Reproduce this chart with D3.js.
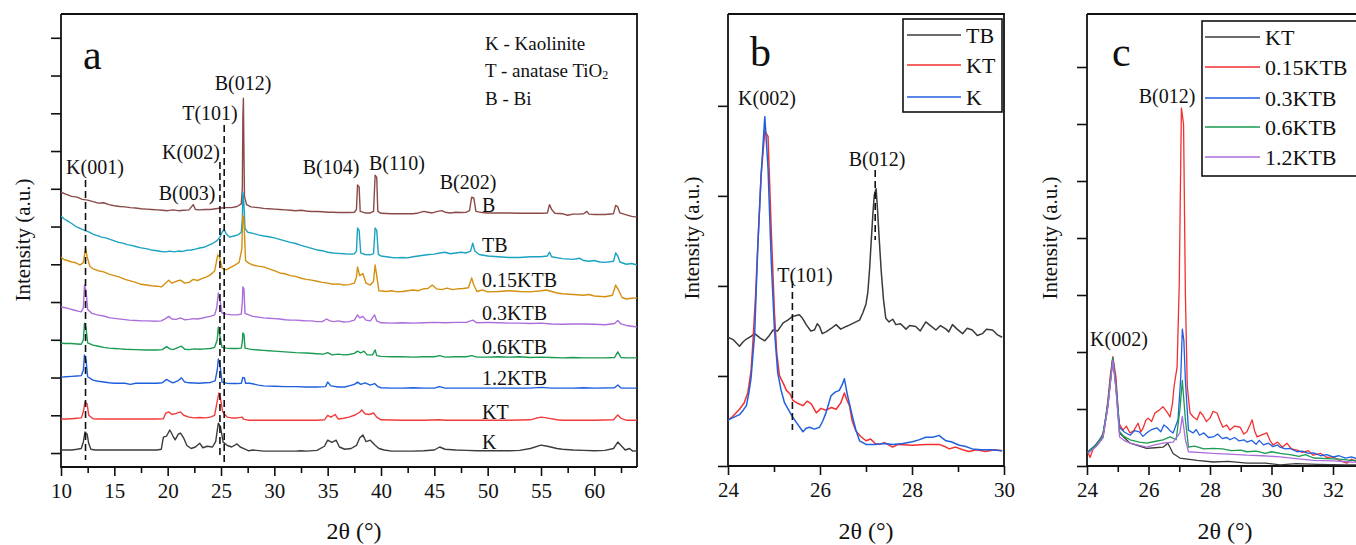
<!DOCTYPE html>
<html>
<head>
<meta charset="utf-8">
<script src="https://cdn.jsdelivr.net/npm/d3@7"></script>
<style>
  body { margin: 0; background: #fff; }
  svg { display: block; font-family: "Liberation Serif", "DejaVu Serif", serif; }
  text { fill: #111; }
</style>
</head>
<body>
<div id="chart"></div>
<script>
// ---- panel a : XRD patterns, stacked (2theta in degrees, intensity a.u.)
const seriesA = ["B", "TB", "0.15KTB", "0.3KTB", "0.6KTB", "1.2KTB", "KT", "K"];
const colorsA = ["#8a4a4a", "#1aa2c2", "#d48f10", "#ac6ddb", "#1b9a52", "#1d5fdc", "#f23c3c", "#3c3c3c"];

const dataB = [[10,6.91],[10.5,6.85],[11,6.80],[11.5,6.78],[12,6.72],[12.5,6.70],[13,6.66],[13.5,6.62],[14,6.63],[14.5,6.58],[15,6.55],[15.5,6.53],[16,6.52],[16.5,6.50],[17,6.49],[17.5,6.47],[18,6.46],[18.5,6.45],[19,6.44],[19.5,6.43],[20,6.42],[20.5,6.44],[21,6.42],[21.5,6.43],[22,6.44],[22.4,6.58],[22.6,6.45],[23,6.44],[23.5,6.45],[24,6.45],[24.5,6.47],[25,6.49],[25.5,6.50],[26,6.50],[26.5,6.53],[26.9,6.60],[27.0,7.0],[27.05,8.9],[27.1,9.40],[27.15,8.0],[27.2,6.8],[27.4,6.58],[27.8,6.52],[28.5,6.50],[29,6.48],[29.5,6.47],[30,6.46],[30.5,6.45],[31,6.44],[31.5,6.43],[32,6.42],[32.5,6.43],[33,6.41],[33.5,6.40],[34,6.40],[34.5,6.39],[35,6.38],[35.5,6.38],[36,6.37],[36.5,6.37],[37,6.37],[37.5,6.38],[37.7,6.45],[37.8,7.10],[37.95,7.05],[38.05,6.40],[38.5,6.36],[39,6.36],[39.3,6.40],[39.45,7.36],[39.6,7.30],[39.7,6.40],[40,6.35],[41,6.34],[42,6.34],[43,6.34],[43.5,6.36],[44,6.40],[44.4,6.38],[44.8,6.36],[45.3,6.40],[45.7,6.42],[46,6.38],[46.5,6.36],[47,6.38],[47.5,6.37],[48,6.38],[48.3,6.42],[48.5,6.78],[48.7,6.76],[48.9,6.40],[49.5,6.37],[50,6.36],[51,6.36],[52,6.36],[53,6.35],[54,6.35],[55,6.35],[55.6,6.36],[55.8,6.58],[56.0,6.45],[56.3,6.35],[57,6.34],[57.5,6.30],[58,6.33],[58.5,6.33],[59,6.34],[59.3,6.40],[59.5,6.33],[60,6.32],[61,6.32],[61.8,6.34],[62.0,6.56],[62.2,6.52],[62.4,6.36],[63,6.31],[63.5,6.27],[64,6.25]];
const dataTB = [[10,6.28],[10.3,6.20],[10.6,6.15],[11,6.08],[11.4,6.0],[11.8,5.95],[12.2,5.90],[12.6,5.86],[13,5.80],[13.4,5.76],[13.8,5.72],[14.2,5.70],[14.6,5.66],[15,5.62],[15.4,5.58],[15.8,5.56],[16.2,5.52],[16.6,5.50],[17,5.47],[17.4,5.44],[17.8,5.42],[18.2,5.40],[18.6,5.37],[19,5.36],[19.4,5.34],[19.8,5.33],[20.2,5.35],[20.6,5.33],[21,5.35],[21.4,5.34],[21.8,5.37],[22.2,5.38],[22.6,5.40],[23,5.43],[23.4,5.45],[23.8,5.50],[24.2,5.55],[24.6,5.62],[24.9,5.72],[25.1,5.85],[25.3,5.92],[25.5,5.80],[25.8,5.72],[26.2,5.75],[26.6,5.78],[26.9,5.85],[27.0,6.2],[27.05,6.91],[27.15,6.6],[27.25,5.95],[27.5,5.85],[28,5.82],[28.5,5.78],[29,5.75],[29.5,5.73],[30,5.70],[30.5,5.66],[31,5.62],[31.5,5.58],[32,5.55],[32.5,5.50],[33,5.46],[33.5,5.42],[34,5.38],[34.5,5.36],[35,5.32],[35.5,5.30],[36,5.29],[36.5,5.28],[37,5.27],[37.5,5.28],[37.7,5.35],[37.8,5.96],[37.95,5.90],[38.1,5.30],[38.5,5.26],[39,5.25],[39.3,5.28],[39.45,5.96],[39.6,5.90],[39.75,5.26],[40,5.22],[40.5,5.20],[41,5.18],[41.5,5.17],[42,5.18],[42.5,5.17],[43,5.20],[43.5,5.22],[44,5.24],[44.5,5.26],[45,5.27],[45.5,5.30],[46,5.32],[46.5,5.28],[47,5.30],[47.5,5.32],[48,5.30],[48.4,5.35],[48.6,5.56],[48.8,5.35],[49.2,5.26],[50,5.22],[51,5.20],[52,5.18],[53,5.18],[54,5.20],[55,5.20],[55.6,5.22],[55.8,5.32],[56,5.20],[57,5.15],[58,5.13],[58.6,5.16],[59,5.10],[59.5,5.08],[60,5.10],[60.5,5.06],[61,5.05],[61.8,5.08],[62.0,5.30],[62.2,5.22],[62.4,5.06],[63,5.00],[63.5,5.02],[64,4.98]];
const data015KTB = [[10,5.19],[10.3,5.12],[10.6,5.10],[11,5.06],[11.4,5.04],[11.8,4.98],[12.1,5.05],[12.3,5.43],[12.45,5.20],[12.7,4.95],[13,4.88],[13.5,4.83],[14,4.80],[14.5,4.74],[15,4.70],[15.5,4.66],[16,4.60],[16.5,4.56],[17,4.52],[17.5,4.47],[18,4.45],[18.5,4.43],[19,4.42],[19.4,4.40],[19.8,4.50],[20.1,4.58],[20.4,4.50],[20.8,4.55],[21.2,4.58],[21.6,4.50],[22,4.52],[22.4,4.60],[22.8,4.57],[23.2,4.62],[23.6,4.66],[24,4.72],[24.4,4.82],[24.7,5.25],[24.85,5.20],[25.1,4.90],[25.5,4.85],[25.9,4.92],[26.3,4.98],[26.7,5.05],[26.95,5.4],[27.05,6.30],[27.15,6.2],[27.3,5.1],[27.6,5.03],[28,4.98],[28.5,4.95],[29,4.93],[29.5,4.88],[30,4.83],[30.5,4.77],[31,4.75],[31.5,4.70],[32,4.68],[32.5,4.63],[33,4.60],[33.5,4.58],[34,4.55],[34.5,4.52],[35,4.50],[35.5,4.47],[36,4.48],[36.5,4.45],[37,4.46],[37.5,4.50],[37.7,4.66],[37.8,4.93],[38,4.70],[38.3,4.75],[38.6,4.50],[39,4.45],[39.3,4.55],[39.45,4.98],[39.6,4.70],[39.8,4.30],[40.5,4.28],[41,4.30],[41.5,4.27],[42,4.28],[42.5,4.30],[43,4.32],[43.5,4.30],[44,4.35],[44.4,4.36],[44.8,4.45],[45.2,4.35],[45.7,4.33],[46.2,4.37],[46.7,4.33],[47.2,4.35],[47.7,4.36],[48.2,4.38],[48.5,4.64],[48.7,4.45],[49,4.28],[49.5,4.32],[50,4.27],[51,4.28],[52,4.30],[53,4.28],[54,4.27],[55,4.30],[55.5,4.32],[56,4.28],[56.5,4.24],[57,4.22],[58,4.20],[59,4.18],[59.5,4.20],[60,4.16],[61,4.14],[61.7,4.18],[62.0,4.45],[62.3,4.30],[62.6,4.12],[63,4.08],[63.5,4.10],[64,4.11]];
const data03KTB = [[10,3.87],[10.4,3.85],[10.8,3.82],[11.2,3.79],[11.6,3.76],[11.9,3.74],[12.1,3.85],[12.2,4.45],[12.35,4.30],[12.5,3.80],[12.9,3.70],[13.4,3.66],[14,3.63],[14.6,3.58],[15.2,3.56],[15.8,3.54],[16.4,3.52],[17,3.51],[17.6,3.50],[18.2,3.50],[18.8,3.49],[19.4,3.50],[19.8,3.56],[20.1,3.62],[20.4,3.55],[20.8,3.54],[21.2,3.58],[21.6,3.53],[22,3.54],[22.4,3.56],[22.8,3.55],[23.2,3.57],[23.6,3.60],[24,3.62],[24.4,3.66],[24.6,3.85],[24.75,4.24],[24.9,4.05],[25.1,3.71],[25.5,3.68],[26,3.66],[26.5,3.66],[26.9,3.68],[27.0,4.0],[27.05,4.40],[27.15,4.35],[27.25,3.70],[27.6,3.66],[28,3.62],[28.5,3.60],[29,3.58],[29.5,3.57],[30,3.56],[30.5,3.55],[31,3.53],[31.5,3.52],[32,3.52],[32.5,3.51],[33,3.50],[33.5,3.50],[34,3.48],[34.5,3.48],[34.9,3.55],[35.2,3.50],[35.6,3.48],[36,3.50],[36.5,3.47],[37,3.48],[37.5,3.52],[37.8,3.66],[38,3.58],[38.3,3.62],[38.6,3.52],[39,3.50],[39.4,3.66],[39.6,3.50],[40,3.45],[41,3.44],[42,3.45],[43,3.44],[44,3.45],[45,3.46],[46,3.45],[47,3.46],[48,3.46],[48.6,3.52],[49,3.45],[50,3.46],[51,3.45],[52,3.44],[53,3.44],[54,3.43],[55,3.44],[56,3.42],[57,3.41],[58,3.42],[59,3.42],[60,3.41],[61,3.40],[61.9,3.43],[62.2,3.51],[62.5,3.42],[63,3.38],[64,3.34]];
const data06KTB = [[10,2.91],[10.5,2.90],[11,2.90],[11.5,2.89],[11.9,2.88],[12.1,3.0],[12.2,3.44],[12.35,3.30],[12.5,2.92],[13,2.86],[13.5,2.83],[14,2.80],[14.5,2.78],[15,2.77],[15.5,2.76],[16,2.75],[17,2.74],[18,2.73],[19,2.73],[19.5,2.74],[19.9,2.82],[20.2,2.76],[20.5,2.74],[21,2.80],[21.3,2.83],[21.6,2.75],[22,2.74],[22.5,2.76],[23,2.75],[23.5,2.76],[24,2.77],[24.4,2.80],[24.65,3.0],[24.75,3.34],[24.9,3.10],[25.1,2.80],[25.5,2.78],[26,2.77],[26.5,2.77],[26.9,2.78],[27.0,2.95],[27.05,3.18],[27.15,3.15],[27.25,2.78],[27.6,2.76],[28,2.74],[28.5,2.73],[29,2.72],[29.5,2.71],[30,2.70],[31,2.68],[32,2.66],[33,2.65],[34,2.63],[34.6,2.62],[35,2.66],[35.4,2.60],[36,2.62],[36.5,2.60],[37,2.61],[37.5,2.64],[37.8,2.70],[38.1,2.65],[38.4,2.70],[38.7,2.60],[39.2,2.60],[39.45,2.73],[39.6,2.58],[40,2.56],[41,2.55],[42,2.55],[43,2.54],[44,2.55],[45,2.55],[45.5,2.58],[46,2.54],[47,2.55],[48,2.55],[48.5,2.58],[49,2.54],[50,2.54],[51,2.55],[52,2.54],[53,2.55],[54,2.53],[55,2.54],[56,2.53],[57,2.52],[58,2.53],[59,2.52],[60,2.52],[61,2.52],[61.9,2.53],[62.2,2.68],[62.5,2.53],[63,2.52],[64,2.52]];
const data12KTB = [[10,2.01],[10.5,2.02],[11,2.03],[11.5,2.04],[11.9,2.05],[12.1,2.2],[12.2,2.60],[12.35,2.45],[12.5,2.02],[13,1.93],[13.5,1.90],[14,1.88],[14.5,1.86],[15,1.85],[16,1.85],[16.5,1.82],[17,1.85],[18,1.85],[19,1.85],[19.5,1.86],[19.9,1.95],[20.2,1.90],[20.5,1.86],[21,1.92],[21.3,1.99],[21.6,1.88],[22,1.86],[23,1.85],[23.5,1.86],[24,1.87],[24.45,1.91],[24.65,2.2],[24.75,2.49],[24.9,2.35],[25.1,1.88],[25.5,1.85],[26,1.84],[26.5,1.84],[26.9,1.85],[27.05,2.0],[27.2,1.99],[27.3,1.85],[27.7,1.85],[28.5,1.80],[29,1.78],[30,1.77],[31,1.76],[32,1.76],[33,1.75],[34,1.75],[34.8,1.76],[35.0,1.88],[35.3,1.78],[36,1.75],[36.6,1.75],[37,1.78],[37.5,1.82],[37.8,1.88],[38.1,1.82],[38.5,1.86],[39,1.80],[39.4,1.84],[39.7,1.76],[40,1.73],[41,1.72],[42,1.72],[43,1.73],[44,1.72],[45,1.72],[45.5,1.76],[46,1.72],[47,1.72],[48,1.72],[49,1.72],[50,1.72],[52,1.72],[54,1.72],[55,1.74],[56,1.72],[58,1.72],[59,1.73],[60,1.72],[61.9,1.73],[62.2,1.80],[62.5,1.72],[63,1.72],[64,1.72]];
const dataKT = [[10,0.90],[10.5,0.90],[11,0.91],[11.5,0.92],[11.9,0.93],[12.1,1.1],[12.25,1.35],[12.45,1.30],[12.6,1.0],[13,0.91],[13.5,0.90],[14,0.90],[15,0.90],[16,0.90],[17,0.90],[18,0.90],[19,0.90],[19.6,0.91],[19.8,1.05],[20.1,1.09],[20.4,1.02],[20.8,1.05],[21.2,1.09],[21.5,1.00],[22,0.95],[22.5,0.93],[23,0.94],[23.5,0.93],[24,0.95],[24.4,1.00],[24.6,1.30],[24.8,1.59],[24.95,1.45],[25.15,1.10],[25.4,1.01],[25.6,0.95],[26,0.93],[26.5,0.93],[27.0,0.95],[27.1,0.90],[27.5,0.87],[28,0.87],[30,0.87],[32,0.87],[34,0.87],[34.7,0.88],[35.0,1.0],[35.3,0.95],[35.7,1.02],[36,0.90],[36.5,0.92],[37,0.95],[37.5,1.00],[38,1.08],[38.2,1.14],[38.5,1.04],[38.9,1.02],[39.3,1.06],[39.6,0.95],[40,0.88],[42,0.87],[44,0.87],[45.5,0.88],[46,0.87],[48,0.87],[50,0.87],[52,0.87],[54,0.88],[54.5,0.92],[55,0.95],[55.5,0.93],[56.5,0.88],[57,0.87],[58,0.87],[60,0.87],[61.8,0.88],[62.2,1.01],[62.5,0.92],[63,0.87],[64,0.87]];
const dataK = [[10,0.08],[11,0.08],[11.5,0.10],[11.9,0.12],[12.1,0.30],[12.25,0.56],[12.45,0.50],[12.6,0.25],[12.8,0.10],[13.2,0.08],[14,0.08],[15,0.08],[16,0.08],[17,0.08],[18,0.08],[19,0.08],[19.4,0.10],[19.6,0.42],[19.9,0.45],[20.2,0.61],[20.5,0.45],[20.7,0.35],[21.0,0.50],[21.2,0.53],[21.5,0.40],[21.8,0.20],[22.2,0.12],[22.6,0.16],[23.0,0.26],[23.3,0.14],[23.7,0.18],[24.2,0.16],[24.5,0.30],[24.75,0.79],[24.95,0.70],[25.2,0.29],[25.6,0.20],[26.0,0.16],[26.5,0.24],[26.8,0.16],[27.2,0.11],[27.6,0.06],[28,0.08],[29,0.05],[30,0.05],[31,0.05],[32,0.05],[32.5,0.06],[33,0.05],[34,0.07],[34.7,0.18],[35.0,0.34],[35.4,0.28],[35.8,0.34],[36.1,0.16],[36.6,0.10],[37.2,0.12],[37.7,0.20],[38.0,0.40],[38.3,0.48],[38.6,0.30],[39.0,0.34],[39.4,0.22],[39.8,0.12],[40.3,0.08],[41,0.05],[42,0.05],[43,0.05],[44,0.06],[45,0.08],[45.5,0.16],[46,0.10],[47,0.08],[48,0.07],[49,0.06],[50,0.06],[51,0.06],[52,0.06],[53,0.07],[54,0.12],[55,0.21],[55.6,0.18],[56.5,0.12],[57,0.10],[58,0.08],[59,0.07],[60,0.06],[61,0.07],[61.8,0.12],[62.2,0.29],[62.5,0.20],[62.9,0.08],[63.3,0.12],[63.6,0.05],[64,0.06]];
const tracesA = [dataB, dataTB, data015KTB, data03KTB, data06KTB, data12KTB, dataKT, dataK];

const ticksAx = [10, 15, 20, 25, 30, 35, 40, 45, 50, 55, 60];
const ticksAy = [0, 1, 2, 3, 4, 5, 6, 7, 8, 9, 10, 11];
const peaksA = [
  { text: "K(001)", theta: 12.3, dashed: true },
  { text: "B(003)", theta: 22.5 },
  { text: "K(002)", theta: 24.9, dashed: true },
  { text: "T(101)", theta: 25.3, dashed: true },
  { text: "B(012)", theta: 27.2 },
  { text: "B(104)", theta: 37.9 },
  { text: "B(110)", theta: 39.6 },
  { text: "B(202)", theta: 48.7 }
];
const keyA = ["K - Kaolinite", "T - anatase TiO", "B - Bi"];

// ---- panel b : zoom 24-30 deg
const seriesB = ["TB", "KT", "K"];
const colorsB = ["#3a3a3a", "#f23030", "#1f5fe0"];
const bTB = [[24.0,1.43],[24.12,1.40],[24.25,1.33],[24.33,1.38],[24.4,1.41],[24.5,1.44],[24.58,1.47],[24.7,1.42],[24.8,1.39],[24.9,1.45],[24.98,1.51],[25.08,1.50],[25.2,1.59],[25.3,1.62],[25.4,1.66],[25.55,1.68],[25.62,1.64],[25.7,1.57],[25.8,1.50],[25.88,1.51],[25.94,1.58],[25.99,1.55],[26.05,1.47],[26.13,1.49],[26.25,1.53],[26.35,1.57],[26.45,1.52],[26.57,1.55],[26.66,1.57],[26.78,1.60],[26.86,1.62],[26.93,1.70],[27.0,1.80],[27.04,1.93],[27.08,2.20],[27.11,2.47],[27.15,2.80],[27.18,3.01],[27.22,3.08],[27.25,2.85],[27.29,2.50],[27.33,2.17],[27.38,1.85],[27.43,1.64],[27.5,1.60],[27.58,1.63],[27.65,1.57],[27.75,1.58],[27.87,1.52],[27.95,1.56],[28.08,1.55],[28.18,1.50],[28.3,1.60],[28.4,1.56],[28.52,1.51],[28.62,1.56],[28.74,1.52],[28.8,1.49],[28.88,1.57],[28.98,1.52],[29.1,1.47],[29.2,1.53],[29.31,1.51],[29.42,1.45],[29.53,1.47],[29.62,1.52],[29.75,1.51],[29.85,1.46],[29.96,1.43]];
const bKT = [[24.0,0.51],[24.1,0.55],[24.25,0.63],[24.35,0.70],[24.43,0.81],[24.5,1.05],[24.54,1.36],[24.6,1.90],[24.65,2.47],[24.72,3.23],[24.8,3.72],[24.87,3.66],[24.94,2.62],[25.01,1.70],[25.06,1.25],[25.12,1.00],[25.2,0.92],[25.27,0.84],[25.35,0.80],[25.41,0.73],[25.5,0.70],[25.63,0.67],[25.72,0.72],[25.81,0.69],[25.92,0.59],[26.02,0.64],[26.13,0.62],[26.25,0.65],[26.35,0.63],[26.45,0.70],[26.53,0.81],[26.58,0.74],[26.64,0.67],[26.7,0.50],[26.78,0.39],[26.88,0.33],[27.0,0.28],[27.1,0.30],[27.2,0.25],[27.29,0.24],[27.4,0.26],[27.58,0.21],[27.7,0.24],[28.01,0.23],[28.3,0.24],[28.59,0.24],[28.7,0.22],[28.81,0.19],[28.95,0.21],[29.1,0.18],[29.24,0.16],[29.4,0.18],[29.6,0.16],[29.8,0.18],[29.96,0.17]];
const bK = [[24.0,0.51],[24.12,0.54],[24.25,0.57],[24.33,0.62],[24.4,0.67],[24.45,0.80],[24.5,0.97],[24.58,1.47],[24.65,2.47],[24.72,3.23],[24.8,3.88],[24.87,3.31],[24.94,2.28],[25.01,1.51],[25.08,1.04],[25.15,0.85],[25.23,0.70],[25.32,0.62],[25.41,0.54],[25.52,0.46],[25.63,0.38],[25.7,0.42],[25.77,0.43],[25.88,0.41],[25.99,0.43],[26.06,0.50],[26.13,0.59],[26.24,0.78],[26.33,0.82],[26.42,0.84],[26.48,0.90],[26.53,0.97],[26.57,0.86],[26.6,0.78],[26.71,0.54],[26.78,0.40],[26.86,0.28],[27.0,0.24],[27.2,0.24],[27.4,0.25],[27.58,0.24],[27.8,0.25],[28.01,0.27],[28.15,0.29],[28.3,0.32],[28.45,0.32],[28.59,0.34],[28.66,0.31],[28.74,0.28],[28.85,0.27],[29.03,0.23],[29.15,0.22],[29.31,0.19],[29.5,0.18],[29.7,0.18],[29.96,0.17]];
const tracesB = [bTB, bKT, bK];
const ticksBx = [24, 26, 28, 30];
const ticksBy = [0, 1, 2, 3, 4];

// ---- panel c : zoom 24-33 deg
const seriesC = ["KT", "0.15KTB", "0.3KTB", "0.6KTB", "1.2KTB"];
const colorsC = ["#3a3a3a", "#f23030", "#1f5fe0", "#1b9a52", "#ac6ddb"];
const cKT = [[24.03,0.25],[24.3,0.35],[24.52,0.50],[24.68,1.05],[24.84,1.90],[24.94,1.40],[25.06,0.58],[25.4,0.40],[25.94,0.31],[26.2,0.32],[26.47,0.33],[26.63,0.40],[26.8,0.22],[27.02,0.14],[27.58,0.10],[28.1,0.07],[28.6,0.08],[29.2,0.05],[29.8,0.05],[30.28,0.02],[30.8,0.04],[31.5,0.03],[32.45,0.02],[33.8,0.02]];
const c015 = [[24.03,0.25],[24.1,0.15],[24.2,0.30],[24.32,0.40],[24.42,0.45],[24.52,0.58],[24.6,0.80],[24.68,1.16],[24.76,1.60],[24.84,1.92],[24.94,1.57],[25.04,0.75],[25.17,0.63],[25.28,0.70],[25.4,0.58],[25.52,0.62],[25.66,0.75],[25.75,0.60],[25.83,0.67],[25.91,0.80],[25.99,0.84],[26.1,0.78],[26.21,0.93],[26.35,0.98],[26.47,1.04],[26.6,0.95],[26.7,0.86],[26.78,1.10],[26.83,1.39],[26.93,1.74],[27.0,3.2],[27.07,6.28],[27.14,6.0],[27.2,3.0],[27.26,1.4],[27.35,0.93],[27.46,0.86],[27.58,0.81],[27.68,0.95],[27.77,0.89],[27.88,0.78],[28.0,0.84],[28.1,0.96],[28.23,0.93],[28.32,0.80],[28.42,0.68],[28.54,0.72],[28.65,0.63],[28.8,0.70],[28.98,0.68],[29.1,0.56],[29.2,0.60],[29.3,0.72],[29.37,0.81],[29.45,0.62],[29.53,0.51],[29.7,0.55],[29.85,0.58],[29.95,0.45],[30.05,0.37],[30.2,0.42],[30.35,0.33],[30.5,0.40],[30.65,0.30],[30.83,0.28],[31.0,0.24],[31.2,0.27],[31.35,0.19],[31.6,0.22],[31.8,0.15],[32.0,0.16],[32.2,0.10],[32.45,0.05],[32.6,0.12],[32.8,0.06],[33.0,0.12],[33.8,0.10]];
const c03 = [[24.03,0.25],[24.3,0.38],[24.52,0.55],[24.68,1.10],[24.84,1.89],[24.94,1.44],[25.06,0.68],[25.2,0.60],[25.4,0.54],[25.55,0.62],[25.7,0.60],[25.82,0.52],[25.94,0.58],[26.1,0.64],[26.27,0.67],[26.4,0.60],[26.5,0.72],[26.6,0.68],[26.7,0.62],[26.8,0.58],[26.96,0.81],[27.05,1.57],[27.1,2.40],[27.15,2.2],[27.2,1.50],[27.3,0.63],[27.45,0.58],[27.55,0.64],[27.66,0.54],[27.8,0.58],[27.95,0.50],[28.1,0.51],[28.25,0.56],[28.4,0.48],[28.55,0.50],[28.65,0.46],[28.8,0.50],[28.95,0.44],[29.1,0.46],[29.2,0.42],[29.35,0.45],[29.5,0.38],[29.6,0.45],[29.74,0.37],[29.9,0.40],[30.05,0.34],[30.2,0.37],[30.28,0.33],[30.45,0.30],[30.6,0.31],[30.83,0.25],[31.0,0.26],[31.2,0.22],[31.37,0.23],[31.6,0.18],[31.8,0.20],[32.0,0.16],[32.2,0.18],[32.4,0.14],[32.6,0.16],[32.8,0.12],[33.8,0.12]];
const c06 = [[24.03,0.25],[24.3,0.37],[24.52,0.55],[24.68,1.10],[24.84,1.90],[24.94,1.40],[25.06,0.60],[25.2,0.52],[25.4,0.46],[25.7,0.42],[25.94,0.40],[26.2,0.43],[26.47,0.46],[26.7,0.51],[26.9,0.46],[27.02,0.98],[27.1,1.50],[27.2,0.81],[27.3,0.33],[27.5,0.35],[27.8,0.30],[28.1,0.31],[28.4,0.30],[28.7,0.27],[29.0,0.28],[29.2,0.25],[29.5,0.26],[29.8,0.22],[30.0,0.25],[30.28,0.22],[30.6,0.20],[30.9,0.17],[31.1,0.20],[31.37,0.14],[31.8,0.13],[32.2,0.12],[32.6,0.10],[33.8,0.08]];
const c12 = [[24.03,0.22],[24.3,0.34],[24.52,0.50],[24.68,1.05],[24.84,1.85],[24.94,1.35],[25.06,0.51],[25.2,0.45],[25.4,0.40],[25.7,0.36],[25.94,0.33],[26.2,0.37],[26.47,0.40],[26.8,0.42],[27.02,0.58],[27.1,0.87],[27.2,0.46],[27.3,0.25],[27.6,0.24],[28.1,0.22],[28.6,0.21],[29.2,0.19],[29.7,0.18],[30.28,0.16],[30.8,0.13],[31.37,0.10],[32.0,0.09],[32.6,0.07],[33.8,0.06]];
const tracesC = [cKT, c015, c03, c06, c12];
const ticksCx = [24, 26, 28, 30, 32];
const ticksCy = [0, 1, 2, 3, 4, 5, 6, 7];

// ---------------------------------------------------------------
const width = 1356, height = 545;
const svg = d3.select("#chart").append("svg")
  .attr("width", width).attr("height", height);

const fs = 20;

function drawFrame(x, y, x0, x1, y0, y1, opt) {
  const g = svg.append("g");
  // bottom axis
  const bottom = d3.axisBottom(x).tickValues(opt.xTicks).tickSize(9).tickFormat(d3.format("d"));
  g.append("g").attr("transform", `translate(0,${y0})`).call(bottom)
    .call(s => s.select(".domain").remove())
    .call(s => s.selectAll(".tick line").attr("stroke", "#111").attr("stroke-width", 1.6))
    .call(s => s.selectAll(".tick text").attr("font-size", 21).attr("font-family", "Liberation Serif").attr("fill", "#111").attr("dy", "0.9em"));
  const minor = d3.axisBottom(x).tickValues(opt.xMinor).tickSize(6).tickFormat("");
  g.append("g").attr("transform", `translate(0,${y0})`).call(minor)
    .call(s => s.select(".domain").remove())
    .call(s => s.selectAll(".tick line").attr("stroke", "#111").attr("stroke-width", 1.6));
  // left axis ticks (no labels)
  const left = d3.axisLeft(y).tickValues(opt.yTicks).tickSize(10).tickFormat("");
  g.append("g").attr("transform", `translate(${x0},0)`).call(left)
    .call(s => s.select(".domain").remove())
    .call(s => s.selectAll(".tick line").attr("stroke", "#111").attr("stroke-width", 1.6));
  // box
  const p = d3.path();
  p.moveTo(x0, y1); p.lineTo(x0, y0); p.lineTo(x1, y0);
  if (opt.right) { p.moveTo(x0, y1); p.lineTo(x1, y1); p.lineTo(x1, y0); }
  else { p.moveTo(x0, y1); p.lineTo(width + 10, y1); }
  g.append("path").attr("d", p.toString()).attr("fill", "none").attr("stroke", "#111").attr("stroke-width", 1.8);
}

function drawTraces(x, y, traces, colors, clipId, x0, x1, y1, y0, sw) {
  svg.append("clipPath").attr("id", clipId).append("rect")
    .attr("x", x0).attr("y", y1).attr("width", x1 - x0).attr("height", y0 - y1);
  const line = d3.line().x(d => x(d[0])).y(d => y(d[1]));
  svg.append("g").attr("clip-path", `url(#${clipId})`)
    .selectAll("path").data(traces).join("path")
    .attr("d", line).attr("fill", "none")
    .attr("stroke", (d, i) => colors[i]).attr("stroke-width", sw)
    .attr("stroke-linejoin", "round");
}

function label(x, y, t, size, anchor) {
  return svg.append("text").attr("x", x).attr("y", y)
    .attr("font-size", size || fs).attr("text-anchor", anchor || "middle")
    .attr("dominant-baseline", "central").text(t);
}

function yTitle(x, y) {
  svg.append("text").attr("transform", `translate(${x},${y}) rotate(-90)`)
    .attr("text-anchor", "middle").attr("dominant-baseline", "central")
    .attr("font-size", 21).text("Intensity (a.u.)");
}

function dashed(x, ya, yb) {
  svg.append("line").attr("x1", x).attr("x2", x).attr("y1", ya).attr("y2", yb)
    .attr("stroke", "#111").attr("stroke-width", 1.6).attr("stroke-dasharray", "7,4");
}

// ---- panel a
{
  const x0 = 61, x1 = 637, y0 = 467, y1 = 14;
  const x = d3.scaleLinear().domain([10, 64]).range([x0, x1]);
  const y = d3.scaleLinear().domain([-0.37, 11.63]).range([y0, y1]);
  drawFrame(x, y, x0, x1, y0, y1, {
    xTicks: ticksAx, xMinor: ticksAx.map(d => d + 2.5).filter(d => d < 64),
    yTicks: ticksAy, right: true
  });
  drawTraces(x, y, tracesA, colorsA, "clipA", x0, x1, y1, y0, 1.4);

  // peak labels (layout: label centre and dashed-line ends)
  const peakLayout = {
    "K(001)": { lx: 95, ly: 167, top: 180, bot: 460 },
    "B(003)": { lx: 187, ly: 193 },
    "K(002)": { lx: 191, ly: 152, top: 162, bot: 457 },
    "T(101)": { lx: 210, ly: 113, top: 125, bot: 463 },
    "B(012)": { lx: 243, ly: 83 },
    "B(104)": { lx: 331, ly: 167 },
    "B(110)": { lx: 397, ly: 163 },
    "B(202)": { lx: 468, ly: 182 }
  };
  peaksA.forEach(p => {
    const L = peakLayout[p.text];
    if (p.dashed) dashed(x(p.theta), L.top, L.bot);
    label(L.lx, L.ly, p.text);
  });

  // key
  const keyY = [43, 70, 98];
  keyA.forEach((t, i) => {
    const tx = label(485, keyY[i], t, 19, "start");
    if (i === 1) tx.append("tspan").attr("font-size", 12).attr("dy", 5).text("2");
  });

  // series names
  const nameY = [205, 245, 280, 313, 347, 378, 412, 442];
  seriesA.forEach((s, i) => label(482, nameY[i], s, fs, "start"));

  label(83, 55, "a", 42, "start");
  yTitle(23, 240);
  label((x0 + x1) / 2 + 5, 531, "2θ (°)", 24);
}

// ---- panel b
{
  const x0 = 728, x1 = 1004, y0 = 466, y1 = 14;
  const x = d3.scaleLinear().domain([24, 30]).range([x0, x1]);
  const y = d3.scaleLinear().domain([0, 5.02]).range([y0, y1]);
  drawFrame(x, y, x0, x1, y0, y1, {
    xTicks: ticksBx, xMinor: [25, 27, 29], yTicks: ticksBy, right: true
  });
  drawTraces(x, y, tracesB, colorsB, "clipB", x0, x1, y1, y0, 1.5);

  dashed(x(25.4), 281, 430);
  dashed(x(27.2), 170, 240);
  label(767, 98, "K(002)");
  label(805, 275, "T(101)");
  label(877, 159, "B(012)");

  // legend
  svg.append("rect").attr("x", 903).attr("y", 19).attr("width", 99).attr("height", 93)
    .attr("fill", "#fff").attr("stroke", "#111").attr("stroke-width", 1.6);
  const ly = [35, 65, 97];
  seriesB.forEach((s, i) => {
    svg.append("line").attr("x1", 907).attr("x2", 961).attr("y1", ly[i]).attr("y2", ly[i])
      .attr("stroke", colorsB[i]).attr("stroke-width", 1.5);
    label(966, ly[i], s, 22, "start");
  });

  label(750, 52, "b", 42, "start");
  yTitle(692, 238);
  label((x0 + x1) / 2, 531, "2θ (°)", 24);
}

// ---- panel c
{
  const x0 = 1087, y0 = 466, y1 = 14;
  const x = d3.scaleLinear().domain([24, 34]).range([x0, x0 + 307.5]);
  const y = d3.scaleLinear().domain([0, 7.93]).range([y0, y1]);
  drawFrame(x, y, x0, width + 10, y0, y1, {
    xTicks: ticksCx, xMinor: [25, 27, 29, 31, 33], yTicks: ticksCy, right: false
  });
  drawTraces(x, y, tracesC, colorsC, "clipC", x0, width, y1, y0, 1.3);

  label(1119, 339, "K(002)");
  label(1167, 96, "B(012)");

  svg.append("rect").attr("x", 1202).attr("y", 21).attr("width", 170).attr("height", 155)
    .attr("fill", "#fff").attr("stroke", "#111").attr("stroke-width", 1.6);
  const ly = [37, 67, 98, 127, 157];
  seriesC.forEach((s, i) => {
    svg.append("line").attr("x1", 1205).attr("x2", 1260).attr("y1", ly[i]).attr("y2", ly[i])
      .attr("stroke", colorsC[i]).attr("stroke-width", 1.5);
    label(1265, ly[i], s, 22, "start");
  });

  label(1112, 52, "c", 42, "start");
  yTitle(1050, 238);
  label(1225, 531, "2θ (°)", 24);
}
</script>
</body>
</html>
